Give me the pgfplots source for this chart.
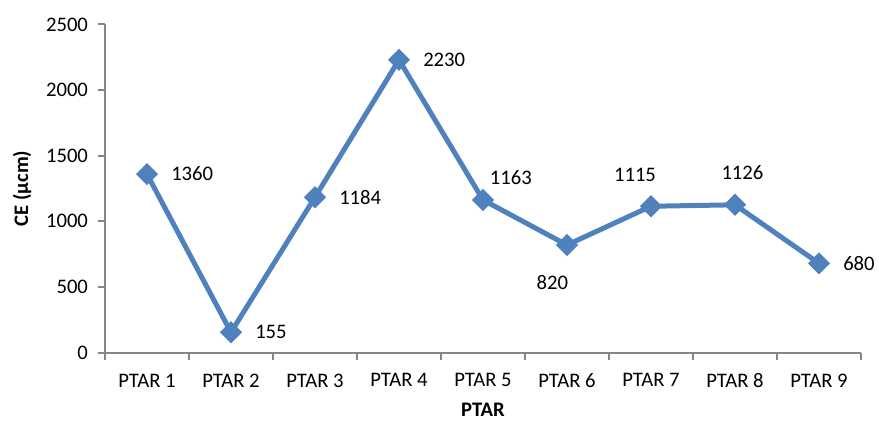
\documentclass[border=0pt]{standalone}
\usepackage{fontspec}
\setmainfont{Carlito}
\usepackage{pgfplots}
\pgfplotsset{compat=1.18}
\definecolor{exblue}{RGB}{79,129,189}
\definecolor{axgray}{RGB}{134,134,134}
\begin{document}
\begin{tikzpicture}
\begin{axis}[
  at={(0pt,0pt)}, anchor=south west,
  scale only axis, width=567pt, height=246.2pt,
  xmin=0.5, xmax=9.5, ymin=0, ymax=2500,
  font=\fontsize{15.5}{18}\selectfont,
  /pgf/number format/assume math mode=true,
  /pgf/number format/1000 sep={},
  axis x line*=bottom, axis y line*=left,
  axis line style={draw=axgray, line width=1.5pt, -},
  xtick={1,...,9},
  xticklabels={PTAR 1,PTAR 2,PTAR 3,PTAR 4,PTAR 5,PTAR 6,PTAR 7,PTAR 8,PTAR 9},
  major x tick style={draw=none},
  minor xtick={0.5,1.5,...,9.5},
  minor x tick style={draw=axgray, line width=1.5pt},
  minor tick length=5.25pt,
  ytick={0,500,...,2500},
  major y tick style={draw=axgray, line width=1.5pt},
  major tick length=5.25pt,
  tick align=outside,
  xticklabel style={anchor=north, yshift=-7pt},
  yticklabel style={anchor=east, xshift=-4pt},
  xlabel={\textbf{PTAR}},
  ylabel={\textbf{CE (µcm)}},
  every axis x label/.style={at={(axis description cs:0.5,-0.174)}, anchor=center},
  every axis y label/.style={at={(axis description cs:-0.1098,0.5)}, anchor=center, rotate=90},
  clip=false,
]
\addplot[exblue, line width=3.75pt, mark=square*, mark size=5.5pt,
  mark options={rotate=45, fill=exblue, draw=exblue, line width=0.75pt}]
  coordinates {(1,1360) (2,155) (3,1184) (4,2230) (5,1163) (6,820) (7,1115) (8,1126) (9,680)};
\begin{scope}[every node/.style={inner sep=0pt, font=\fontsize{15.5}{18}\selectfont}]
\node[anchor=west, xshift=18pt] at (axis cs:1,1360) {1360};
\node[anchor=west, xshift=18pt] at (axis cs:2,155) {155};
\node[anchor=west, xshift=18pt] at (axis cs:3,1184) {1184};
\node[anchor=west, xshift=18pt] at (axis cs:4,2230) {2230};
\node[anchor=center, xshift=20.9pt, yshift=17pt] at (axis cs:5,1163) {1163};
\node[anchor=center, xshift=-11pt, yshift=-28pt] at (axis cs:6,820) {820};
\node[anchor=center, xshift=-12pt, yshift=23.8pt] at (axis cs:7,1115) {1115};
\node[anchor=center, xshift=5.6pt, yshift=23.8pt] at (axis cs:8,1126) {1126};
\node[anchor=west, xshift=18pt] at (axis cs:9,680) {680};
\end{scope}
\end{axis}
\pgfresetboundingbox
\path[use as bounding box] (-78.75pt,-51.2pt) rectangle (580.5pt,264.5pt);
\end{tikzpicture}
\end{document}
